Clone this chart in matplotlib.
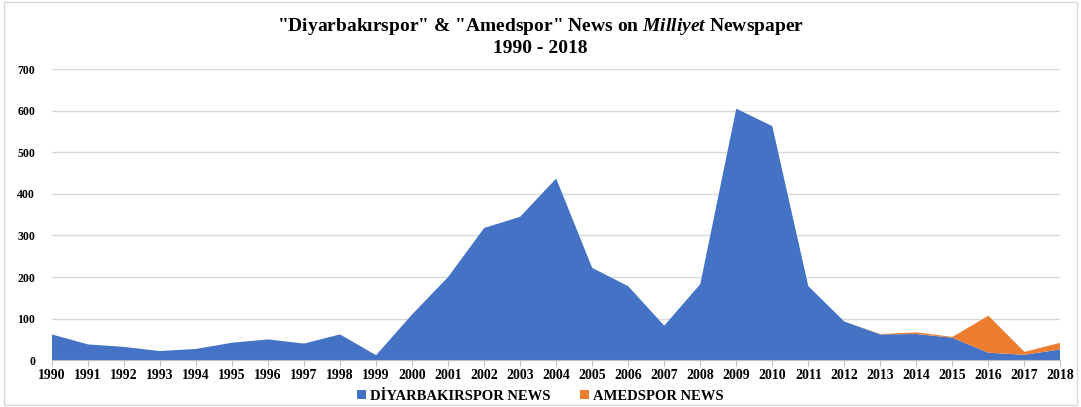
import matplotlib.pyplot as plt
from matplotlib.patches import Rectangle

plt.rcParams['font.family'] = ['Liberation Serif', 'DejaVu Serif']
plt.rcParams['mathtext.fontset'] = 'custom'
plt.rcParams['mathtext.it'] = 'Liberation Serif:italic:bold'
plt.rcParams['mathtext.rm'] = 'Liberation Serif:bold'

years = list(range(1990, 2019))
diyarbakirspor = [62, 38, 32, 22, 27, 42, 50, 40, 62, 12, 110, 200, 318, 345, 437,
                  222, 178, 83, 183, 605, 563, 178, 93, 62, 63, 54, 18, 13, 26]
amedspor = [0, 0, 0, 0, 0, 0, 0, 0, 0, 0, 0, 0, 0, 0, 0,
            0, 0, 0, 0, 0, 0, 0, 0, 1, 4, 2, 89, 7, 16]

fig = plt.figure(figsize=(10.81, 4.07), dpi=100)
ax = fig.add_axes([0.048, 0.115, 0.933, 0.715])

ax.stackplot(years, diyarbakirspor, amedspor, colors=['#4472C4', '#ED7D31'],
             labels=['DİYARBAKIRSPOR NEWS', 'AMEDSPOR NEWS'])

ax.set_xlim(1990, 2018)
ax.set_ylim(0, 700)
ax.set_yticks(range(0, 701, 100))
ax.set_xticks(years)
ax.set_xticklabels([str(y) for y in years], fontsize=10, fontweight='bold')
ax.set_yticklabels([str(v) for v in range(0, 701, 100)], fontsize=8.5, fontweight='bold')
ax.grid(axis='y', color='#d9d9d9', linewidth=1)
ax.set_axisbelow(True)
for s in ['top', 'right', 'left']:
    ax.spines[s].set_visible(False)
ax.spines['bottom'].set_color('#bfbfbf')
ax.tick_params(axis='y', length=0, pad=12)
ax.tick_params(axis='x', length=4, color='#bfbfbf', pad=2)

fig.text(0.5, 0.935, '"Diyarbakırspor" & "Amedspor" News on $\\it{Milliyet}$ Newspaper',
         ha='center', va='center', fontsize=14, fontweight='bold')
fig.text(0.5, 0.88, '1990 - 2018', ha='center', va='center', fontsize=14, fontweight='bold')

fig.legend(loc='center', bbox_to_anchor=(0.5, 0.027), ncol=2, frameon=False,
           prop={'weight': 'bold', 'size': 10.5}, handlelength=0.6, handleheight=0.6,
           columnspacing=2, handletextpad=0.3)

fig.patches.append(Rectangle((0.004, 0.004), 0.992, 0.99, transform=fig.transFigure,
                             fill=False, edgecolor='#d9d9d9', linewidth=1))

fig.savefig('out.png', dpi=100)
